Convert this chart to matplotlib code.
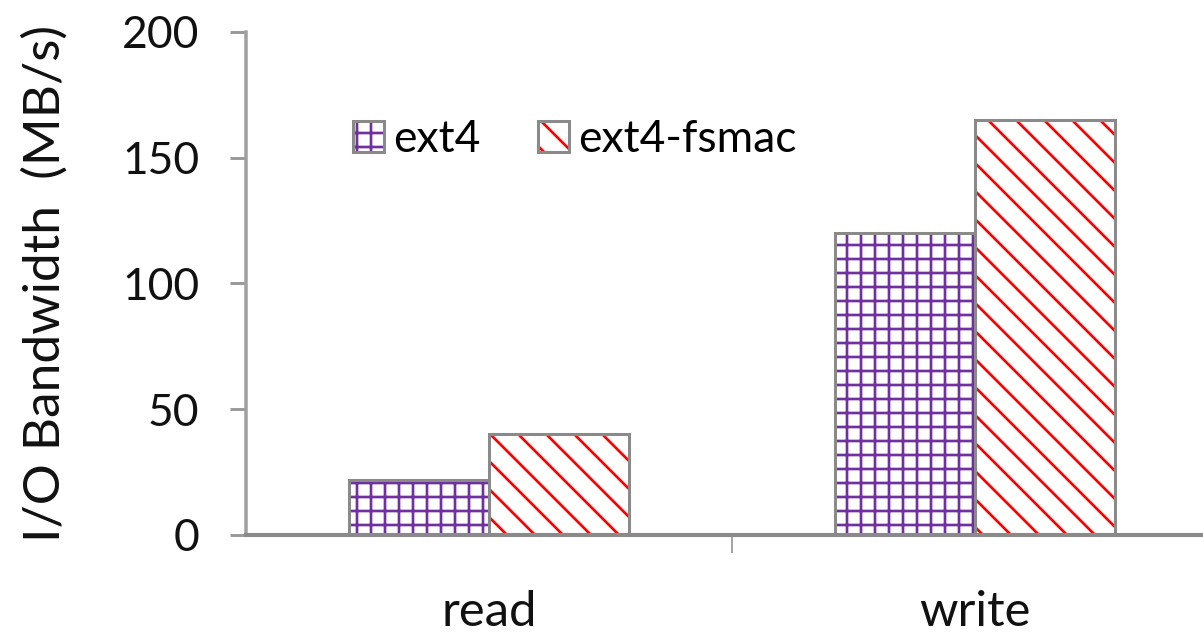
import numpy as np
import matplotlib.pyplot as plt
from matplotlib.ticker import FixedLocator
from matplotlib.patches import Rectangle
from matplotlib.legend_handler import HandlerTuple

plt.rcParams['font.family'] = ['Lato', 'DejaVu Sans']
plt.rcParams['hatch.linewidth'] = 2.3

# bandwidth per workload
ops = ['read', 'write']
ext4 = [22, 120]
ext4_fsmac = [40, 165]

DPI = 84
fig = plt.figure(figsize=(1203 / DPI, 635 / DPI), dpi=DPI)
ax = fig.add_axes([0.2045, 0.1575, 0.7955, 0.7925])

x = np.arange(len(ops))
w = 0.288
edge = '#8a8a8a'
purple = '#7030a0'
red = '#ff0000'

# hatch takes the edge colour, so draw fills first then grey outlines on top
ax.bar(x - w / 2, ext4, w, color='white', edgecolor=purple, hatch='+', linewidth=0)
ax.bar(x + w / 2, ext4_fsmac, w, color='white', edgecolor=red, hatch='\\', linewidth=0)
ax.bar(x - w / 2, ext4, w, fill=False, edgecolor=edge, linewidth=2.6)
ax.bar(x + w / 2, ext4_fsmac, w, fill=False, edgecolor=edge, linewidth=2.6)


# legend: hatched square with a grey outline laid over it
def key(colour, hatch):
    fill = Rectangle((0, 0), 1, 1, facecolor='white', edgecolor=colour,
                     hatch=hatch, linewidth=0)
    frame = Rectangle((0, 0), 1, 1, fill=False, edgecolor=edge, linewidth=2.6)
    return (fill, frame)


ax.legend([key(purple, '+'), key(red, '\\')], ['ext4', 'ext4-fsmac'],
          handler_map={tuple: HandlerTuple(ndivide=1, pad=0)},
          ncol=2, frameon=False, loc='upper left',
          bbox_to_anchor=(0.07, 0.905), fontsize=38,
          handlelength=0.7, handleheight=0.7, handletextpad=0.2,
          columnspacing=1.3)

ax.set_xlim(-0.5, 1.47)
ax.set_ylim(0, 200)
ax.set_yticks([0, 50, 100, 150, 200])
ax.set_xticks(x)
ax.set_xticklabels(ops)
ax.xaxis.set_minor_locator(FixedLocator([0.5]))

ax.tick_params(axis='y', direction='out', length=14, width=2.5, color='#999999',
               labelsize=38, pad=26, labelcolor='#111111')
ax.tick_params(axis='x', which='major', length=0, labelsize=42, pad=47,
               labelcolor='#111111')
ax.tick_params(axis='x', which='minor', direction='out', length=15, width=1.5,
               color='#999999')

for s in ['top', 'right']:
    ax.spines[s].set_visible(False)
ax.spines['left'].set_color('#a0a0a0')
ax.spines['left'].set_linewidth(3)
ax.spines['bottom'].set_color(edge)
ax.spines['bottom'].set_linewidth(3.5)

ax.set_ylabel('I/O Bandwidth  (MB/s)', fontsize=44, color='#111111', labelpad=46)

fig.savefig('out.png', dpi=DPI)
